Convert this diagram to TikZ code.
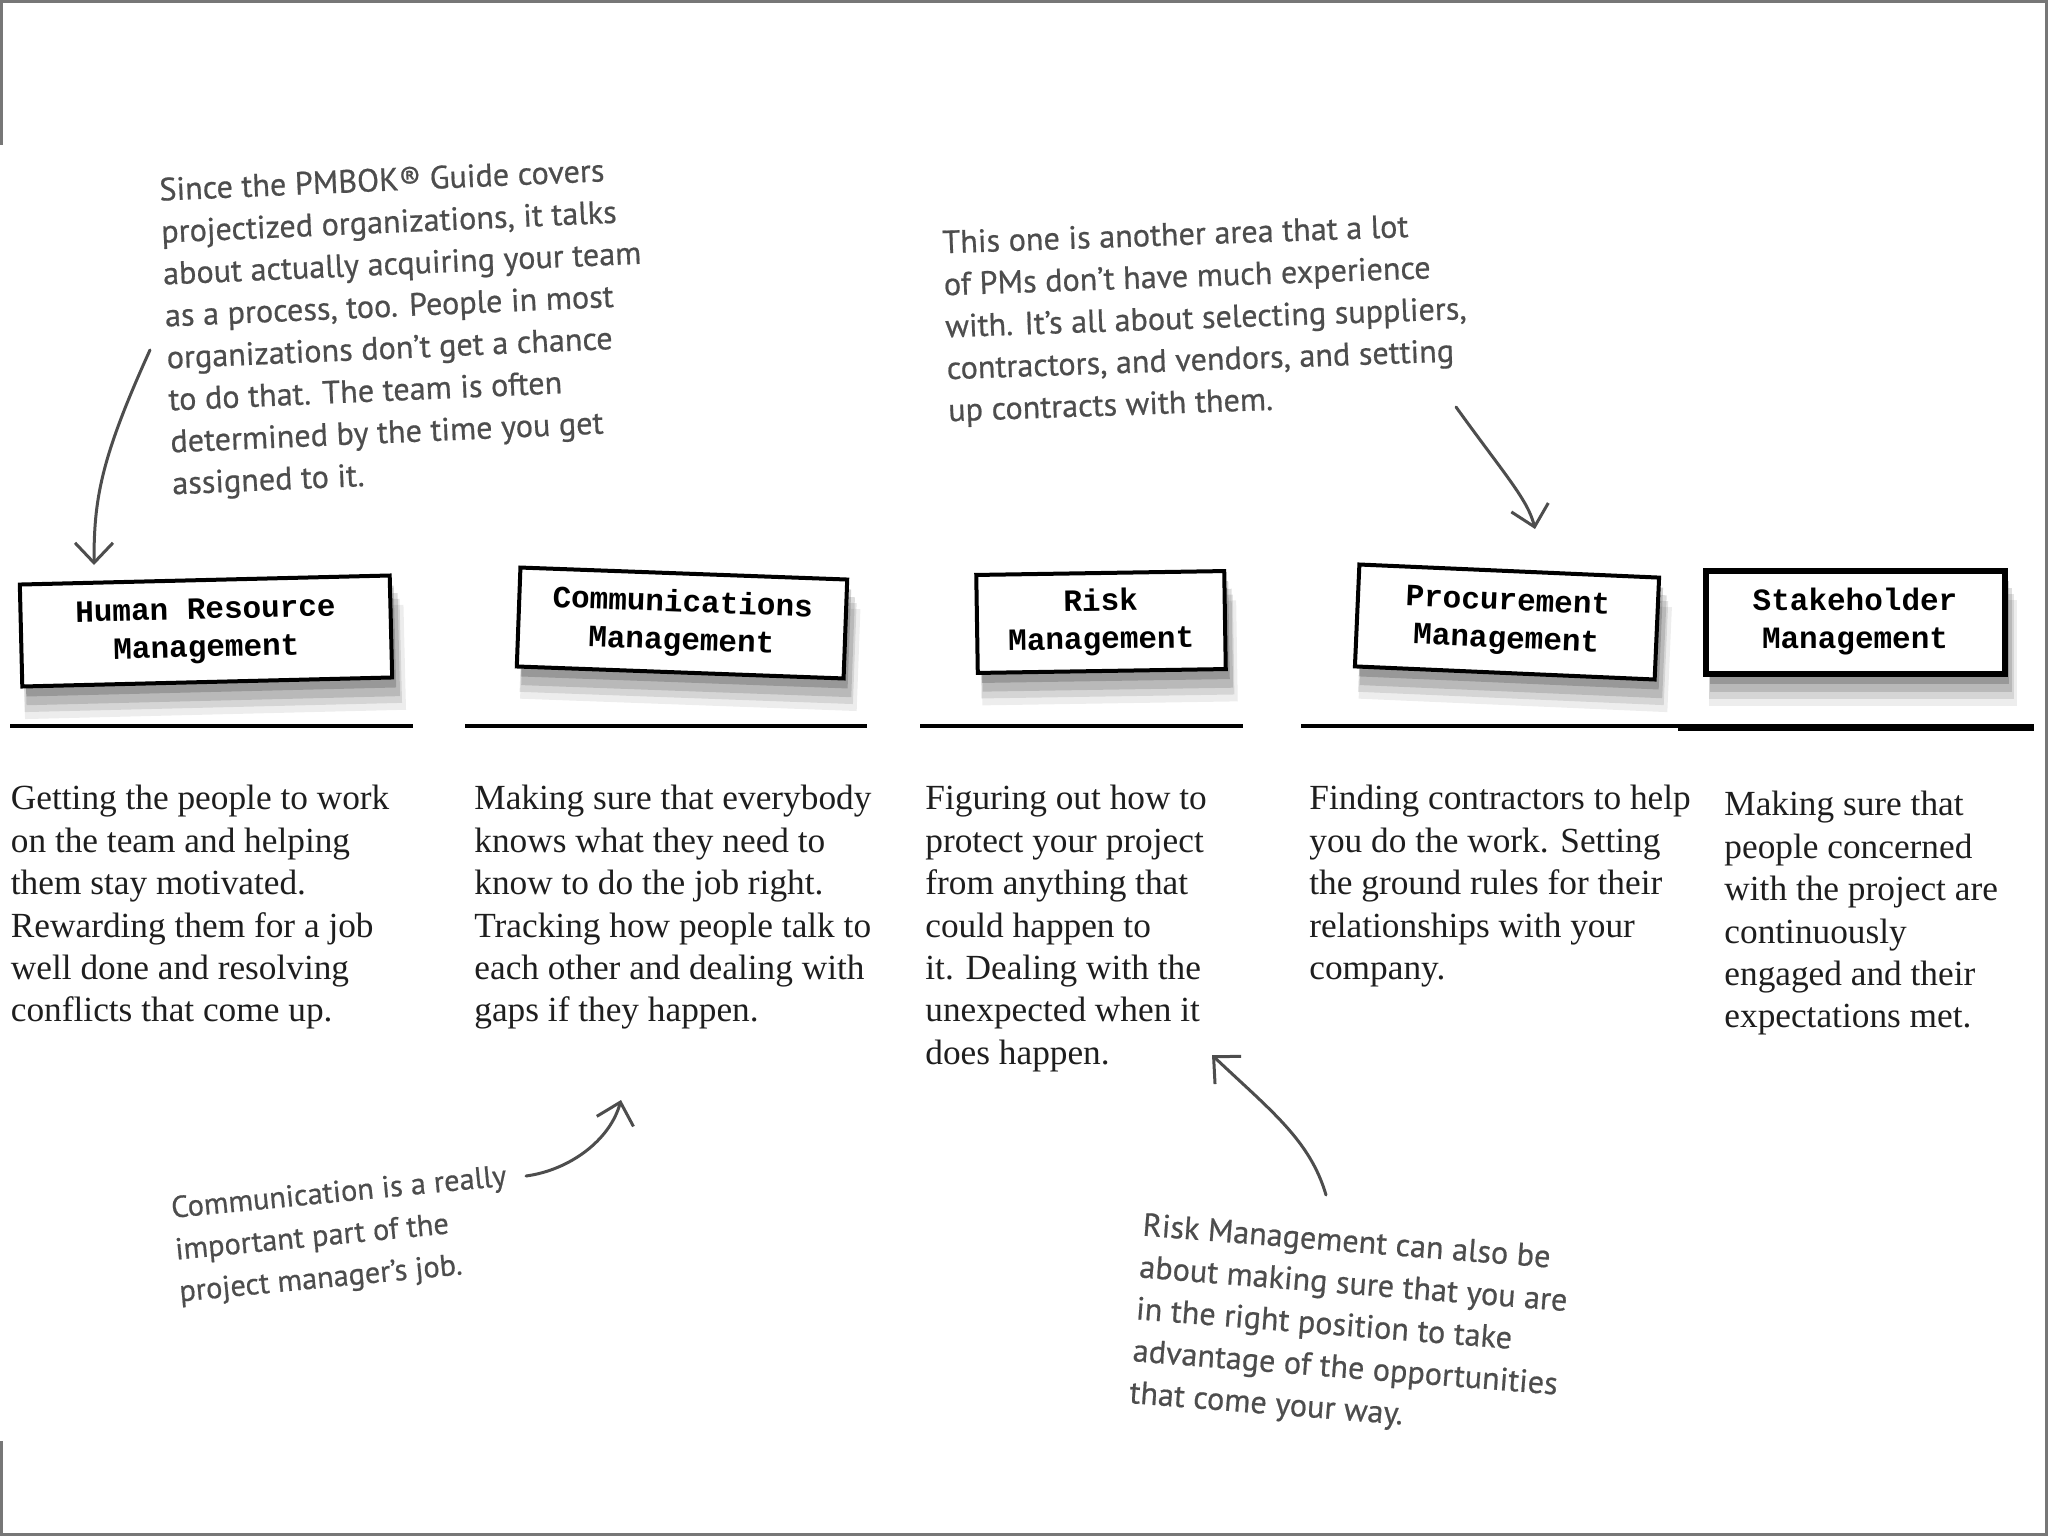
\documentclass[tikz,border=0pt]{standalone}
\usepackage{fontspec}
\setmainfont{Liberation Serif}
\newfontfamily\boxfont{Liberation Mono}
\newfontfamily\handfont{PT Sans}[FakeBold=0.6]
\usetikzlibrary{shadows,arrows.meta}
\definecolor{handgray}{HTML}{4D4D4D}
\definecolor{framegray}{HTML}{777777}
\definecolor{bodyink}{HTML}{1E1E1E}
\tikzset{
  fuzzy/.style={
    general shadow={fill=black, opacity=0.07, shadow xshift=4pt, shadow yshift=-15pt, shadow scale=1.03},
    general shadow={fill=black, opacity=0.10, shadow xshift=3pt, shadow yshift=-12pt, shadow scale=1.02},
    general shadow={fill=black, opacity=0.13, shadow xshift=3pt, shadow yshift=-9pt, shadow scale=1.01},
    general shadow={fill=black, opacity=0.18, shadow xshift=2pt, shadow yshift=-5pt}},
  areabox/.style={fuzzy, draw=black, line width=2pt, fill=white, align=center, inner sep=0pt,
    font=\boxfont\bfseries\fontsize{15.5pt}{19pt}\selectfont},
  body/.style={anchor=north west, align=left, inner sep=0pt, text=bodyink,
    font=\fontsize{17.65pt}{21.2pt}\selectfont},
  hand/.style={align=left, inner sep=0pt, text=handgray,
    font=\handfont\fontsize{16.1pt}{21pt}\selectfont},
  handsmall/.style={hand, font=\handfont\fontsize{15.2pt}{21pt}\selectfont},
  rulethin/.style={line width=2pt, draw=black},
  rulethick/.style={line width=3.5pt, draw=black},
  note/.style={draw=handgray, line width=1.5pt, line cap=round,
    -{Straight Barb[length=10pt, width=19pt, line width=1.5pt]}},
  frame/.style={draw=framegray, line width=1.5pt}
}
\begin{document}
\begin{tikzpicture}[x=0.5pt, y=-0.5pt]
\useasboundingbox (0,0) rectangle (2048,1536);
% page frame
\draw[frame] (0,1.5) -- (2048,1.5);
\draw[frame] (2046.5,0) -- (2046.5,1536);
\draw[frame] (0,1534.5) -- (2048,1534.5);
\draw[frame] (1.5,0) -- (1.5,145);
\draw[frame] (1.5,1441) -- (1.5,1536);

% area boxes
\node[areabox, rotate=1.4, minimum width=185pt, minimum height=51pt] (hr) at (206,631) {Human Resource\\Management};
\node[areabox, rotate=-2.1, minimum width=163.5pt, minimum height=49.5pt] (comm) at (682,623) {Communications\\Management};
\node[areabox, rotate=0.9, minimum width=124pt, minimum height=49pt] (risk) at (1101,622) {Risk\\Management};
\node[areabox, rotate=-2.5, minimum width=150pt, minimum height=51pt] (proc) at (1507,622) {Procurement\\Management};
\node[areabox, line width=3pt, minimum width=149.5pt, minimum height=51.5pt] (stake) at (1855,622) {Stakeholder\\Management};

% rules
\draw[rulethin] (10,726) -- (413,726);
\draw[rulethin] (465,726) -- (867,726);
\draw[rulethin] (920,726) -- (1243,726);
\draw[rulethin] (1301,726) -- (1678,726);
\draw[rulethick] (1678,727) -- (2034,727);

% descriptions
\node[body] (d1) at (10.5,785) {Getting the people to work\\on the team and helping\\them stay motivated.\\Rewarding them for a job\\well done and resolving\\conflicts that come up.};
\node[body] (d2) at (474,785) {Making sure that everybody\\knows what they need to\\know to do the job right.\\Tracking how people talk to\\each other and dealing with\\gaps if they happen.};
\node[body] (d3) at (925,785) {Figuring out how to\\protect your project\\from anything that\\could happen to\\it. Dealing with the\\unexpected when it\\does happen.};
\node[body] (d4) at (1309,785) {Finding contractors to help\\you do the work. Setting\\the ground rules for their\\relationships with your\\company.};
\node[body] (d5) at (1724,791) {Making sure that\\people concerned\\with the project are\\continuously\\engaged and their\\expectations met.};

% handwritten notes
\node[hand, rotate=2.5] (n1) at (405,329) {Since the PMBOK\textregistered{} Guide covers\\projectized organizations, it talks\\about actually acquiring your team\\as a process, too. People in most\\organizations don’t get a chance\\to do that. The team is often\\determined by the time you get\\assigned to it.};
\node[hand, rotate=2] (n2) at (1206,320) {This one is another area that a lot\\of PMs don’t have much experience\\with. It’s all about selecting suppliers,\\contractors, and vendors, and setting\\up contracts with them.};
\node[handsmall, rotate=5.5] (n3) at (343,1236) {Communication is a really\\important part of the\\project manager’s job.};
\node[hand, rotate=-4.5] (n4) at (1350,1328) {Risk Management can also be\\about making sure that you are\\in the right position to take\\advantage of the opportunities\\that come your way.};

% arrow ends
\coordinate (a1s) at (150,350);
\coordinate (a1e) at (94,565);
\coordinate (a2s) at (1456,407);
\coordinate (a2e) at (1535,529);
\coordinate (a3s) at (526,1176);
\coordinate (a3e) at (621,1100);
\coordinate (a4s) at (1326,1195);
\coordinate (a4e) at (1212,1055);

\draw[note] (a1s) .. controls (100,460) and (94,500) .. (a1e);
\draw[note] (a2s) .. controls (1505,475) and (1528,500) .. (a2e);
\draw[note] (a3s) .. controls (570,1170) and (610,1140) .. (a3e);
\draw[note] (a4s) .. controls (1310,1140) and (1270,1110) .. (a4e);
\end{tikzpicture}
\end{document}
